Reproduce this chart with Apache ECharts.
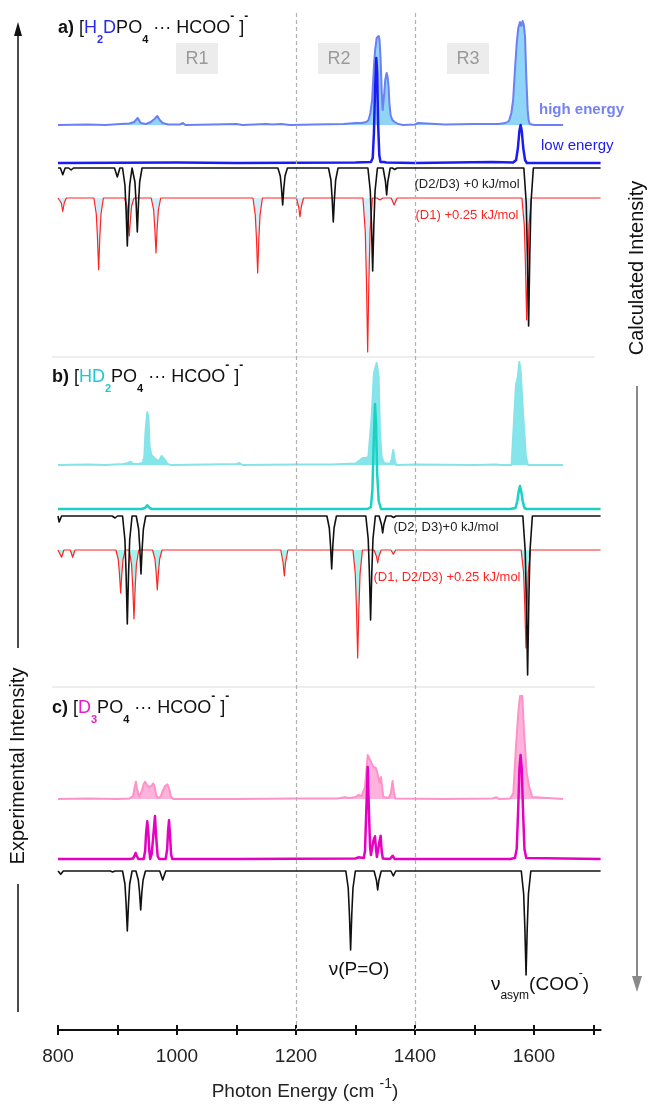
<!DOCTYPE html>
<html>
<head>
<meta charset="utf-8">
<script src="https://cdn.jsdelivr.net/npm/echarts@6/dist/echarts.min.js"></script>
<style>
  html, body { margin: 0; padding: 0; background: #fff; }
  #chart { width: 650px; height: 1104px; }
</style>
</head>
<body>
<div id="chart"></div>
<script>
// ---- wavenumber axis (cm-1) ----
const xTickValues = [800, 900, 1000, 1100, 1200, 1300, 1400, 1500, 1600, 1700];
const xLabelValues = [800, 1000, 1200, 1400, 1600];
const regionNames = ['R1', 'R2', 'R3'];

// ---- spectra: [wavenumber, intensity (arb. units)] ----
// a) [H2DPO4 ... HCOO-]-  experimental, high energy
const aExpHigh = [[800,0],[850,0.5],[880,0],[905,1],[920,1.5],[928,3],[934,7],[939,2],[948,1],[956,3],[962,6],[967,9],[971,5],[976,2],[985,0.5],[1005,0.5],[1010,2],[1014,0],[1060,0.5],[1100,1],[1110,0],[1150,1],[1160,0.5],[1175,1],[1190,0],[1230,0.5],[1280,1],[1300,2],[1310,2],[1318,3],[1322,5],[1325,12],[1328,25],[1331,58],[1333,75],[1335.6,87],[1339,89],[1340.5,85],[1342.3,65],[1344,35],[1345.7,15],[1348.4,32],[1350,45],[1352.4,52],[1354,48],[1355.7,38],[1357,22],[1359,10],[1362,5],[1366,3],[1372,1],[1380,0],[1400,0.5],[1405,2],[1408,0],[1450,0.5],[1500,1],[1540,1],[1552,2],[1558,4],[1562,12],[1565,25],[1568,55],[1571,82],[1573.6,97],[1576.5,103],[1578.7,99],[1581,104],[1583,100],[1585,88],[1587,50],[1589.4,15],[1591,5],[1593,1],[1600,0],[1649,0]];
// a) experimental, low energy
const aExpLow = [[800,0],[1000,0.5],[1100,0],[1300,0.5],[1326,1],[1329,5],[1331,30],[1333,75],[1335,105],[1336.5,90],[1338,40],[1340,8],[1342,1],[1348,1],[1350,2.5],[1352,0.5],[1400,0],[1530,1],[1533,0],[1565,0.5],[1570,3],[1573,15],[1575.5,32],[1577.5,38],[1579.5,32],[1582,15],[1585,3],[1588,0],[1712,0]];
// a) calculated (D2/D3) +0 kJ/mol
const aCalcD2D3 = [[800,0],[804,0],[808,6.7],[812,0],[818,0],[822,2],[826,0],[895,0],[899.7,9],[904,0],[908.5,0],[912.5,17],[914.5,43],[916.5,78],[918.5,43],[920.5,17],[924.5,0],[925.3,0],[929.3,14],[931.3,35],[933.3,64],[935.3,35],[937.3,14],[941.3,0],[1169.6,0],[1173.6,8],[1175.6,20],[1177.6,37],[1179.6,20],[1181.6,8],[1185.6,0],[1254.7,0],[1258.7,12],[1260.7,30],[1262.7,54],[1264.7,30],[1266.7,12],[1270.7,0],[1320.9,0],[1324.9,23],[1326.9,57],[1328.9,103],[1330.9,57],[1332.9,23],[1336.9,0],[1346.4,0],[1350.4,13.5],[1352.4,27],[1354.4,13.5],[1358.4,0],[1362,0],[1366,1.5],[1370,0],[1583,0],[1587,35],[1589,87],[1591,158],[1593,87],[1595,35],[1599,0],[1712,0]];
// a) calculated (D1) +0.25 kJ/mol
const aCalcD1 = [[800,0],[803,0],[805.5,5],[808,13.3],[810.5,5],[814,0],[860.3,0],[864.3,16],[866.3,39],[868.3,71.7],[870.3,39],[872.3,16],[876.3,0],[911.8,0],[915.8,8],[917.8,21],[919.8,38],[921.8,21],[923.8,8],[927.8,0],[956.7,0],[960.7,12],[962.7,30],[964.7,55],[966.7,30],[968.7,12],[972.7,0],[1127.6,0],[1131.6,17],[1133.6,41],[1135.6,75],[1137.6,41],[1139.6,17],[1143.6,0],[1200.7,0],[1204.7,9.5],[1206.7,19],[1208.7,9.5],[1212.7,0],[1312.5,0],[1316.5,34],[1318.5,85],[1320.5,154],[1322.5,85],[1324.5,34],[1328.5,0],[1336,0],[1341,2],[1346,0],[1360,0],[1365,7],[1370,0],[1579.7,0],[1583.7,27],[1585.7,67],[1587.7,122],[1589.7,67],[1591.7,27],[1595.7,0],[1712,0]];

// b) [HD2PO4 ... HCOO-]-  experimental, high energy
const bExpHigh = [[800,0],[850,0.5],[880,0],[910,1],[918,2],[922,3.3],[926,1],[935,1],[942,2],[945,8],[947,33],[950,52.7],[952,48],[954,18],[957,10],[962,7],[966,5],[970,4],[974,9],[977,11],[980,5],[984,1],[990,0],[1050,0.5],[1100,1],[1105,2],[1110,0],[1200,0.5],[1260,0.5],[1300,1.5],[1308,5],[1312,7],[1318,7],[1321.6,8],[1327.2,48],[1331,92],[1335.6,102],[1339,88],[1341.2,32],[1344,8],[1348,2],[1358,1],[1361,6],[1363.5,15],[1366,5],[1368,0],[1400,0.5],[1500,0],[1537,0.5],[1539.6,2],[1542,0],[1562.4,0],[1565.3,32],[1569.7,80],[1573,88],[1575.3,103],[1577.5,95],[1582,48],[1586.5,8],[1590,0],[1649,0]];
// b) experimental, low energy
const bExpLow = [[800,0],[940,0],[946,1],[950,3.7],[954,1],[958,0],[1100,0],[1320,0],[1326,2],[1328.5,20],[1330.5,65],[1332.8,105],[1334.5,85],[1336.5,35],[1339,8],[1343,0],[1560,0],[1569,1],[1572,8],[1574.5,18],[1576.5,23],[1578.5,18],[1581,8],[1584,1],[1588,0],[1712,0]];
// b) calculated (D2, D3) +0 kJ/mol
const bCalcD2D3 = [[800,0],[802,6],[806,0],[891,0],[895.8,2],[900,0],[908.5,0],[912.5,24],[914.5,59],[916.5,108],[918.5,59],[920.5,24],[924.5,0],[931.5,0],[935.5,13],[937.5,32],[939.5,58],[941.5,32],[943.5,13],[947.5,0],[1252,0],[1256,12],[1258,29],[1260,53],[1262,29],[1264,12],[1268,0],[1317.4,0],[1321.4,23],[1323.4,57],[1325.4,104],[1327.4,57],[1329.4,23],[1333.4,0],[1339.7,0],[1343.7,8.5],[1345.7,17],[1347.7,8.5],[1351.7,0],[1360,0],[1364,1.5],[1368,0],[1581.3,0],[1585.3,35],[1587.3,87],[1589.3,159],[1591.3,87],[1593.3,35],[1597.3,0],[1712,0]];
// b) calculated (D1, D2/D3) +0.25 kJ/mol
const bCalcD1 = [[800,0],[802,0],[806,7.3],[810,0],[820.6,0],[824.6,7.3],[828.6,0],[897.3,0],[901.3,9.5],[903.3,24],[905.3,43],[907.3,24],[909.3,9.5],[913.3,0],[919.7,0],[923.7,15],[925.7,38],[927.7,69],[929.7,38],[931.7,15],[935.7,0],[958.9,0],[962.9,9],[964.9,22],[966.9,40],[968.9,22],[970.9,9],[974.9,0],[1174.4,0],[1178.4,13],[1180.4,26],[1182.4,13],[1186.4,0],[1295.7,0],[1299.7,24],[1301.7,59],[1303.7,108],[1305.7,59],[1307.7,24],[1311.7,0],[1331.3,0],[1335.3,6.5],[1337.3,13],[1339.3,6.5],[1343.3,0],[1359.6,0],[1363.6,4.3],[1367.6,0],[1578.5,0],[1582.5,22],[1584.5,54],[1586.5,98],[1588.5,54],[1590.5,22],[1594.5,0],[1712,0]];

// c) [D3PO4 ... HCOO-]-  experimental, high energy
const cExpHigh = [[800,0],[850,0.5],[900,0],[920,0.5],[926,3],[929,12],[931,17.3],[933,10],[936,2],[938,1],[941,8],[944,15],[946.2,17.3],[949,16],[952,12],[954,10],[957,13],[960,15.7],[962,13],[965,4],[968,1],[972,2],[976,8],[980,13],[984,14.7],[987,10],[990,2],[994,0],[1100,0],[1200,0.5],[1270,0.5],[1282,1.7],[1290,1],[1300,2],[1304.8,4],[1310,3],[1316,12],[1320.5,44],[1324.4,39],[1330,32],[1334.5,31],[1338.4,22],[1340.5,16],[1342.9,22],[1346.8,2],[1356,1],[1359.5,6],[1362.4,18],[1365,5],[1367,0.5],[1450,0],[1530,0.5],[1537,1.7],[1541,0],[1560,0.5],[1565.3,5.7],[1569.7,52],[1573.6,86],[1576.5,103],[1580.4,103],[1583.2,69],[1587.7,26],[1592.1,12],[1597,2],[1600,0],[1649,0]];
// c) experimental, low energy
const cExpLow = [[800,0],[920,0],[926,0.5],[928.5,3],[930.5,6],[932.5,3],[935,0],[944,0],[946.5,8],[948,25],[950,37.7],[952,25],[953.5,8],[955,0],[957.5,5],[960,22],[963,43],[965,22],[967.5,3],[970,0],[981,0],[983.5,10],[985,28],[986.6,38.7],[988.5,22],[990,5],[992,0],[1100,0],[1300,0.5],[1304.8,1.7],[1308,0.5],[1314,1],[1316,8],[1318,45],[1320.5,92],[1322.5,50],[1324.5,12],[1326,4],[1328,6],[1330,18],[1332.8,22.7],[1334.5,10],[1336,2],[1338.5,3],[1340.5,18],[1342.3,23.3],[1344,8],[1346,0.5],[1358,0],[1362.4,3.3],[1366,0],[1560,0],[1568,1],[1571,10],[1573.5,50],[1575.5,90],[1577.5,104],[1579.5,90],[1581.5,50],[1584,10],[1587,1],[1590,0],[1712,0]];
// c) calculated
const cCalc = [[800,0],[804.6,3.3],[809,0],[888,0],[891.8,1],[896,0],[908.5,0],[912.5,13],[914.5,33],[916.5,60],[918.5,33],[920.5,13],[924.5,0],[931,0],[935,9],[937,21],[939,39],[941,21],[943,9],[947,0],[971,0],[976,9],[981,0],[1283.8,0],[1287.8,17],[1289.8,43],[1291.8,79],[1293.8,43],[1295.8,17],[1299.8,0],[1331.3,0],[1335.3,9.5],[1337.3,19],[1339.3,9.5],[1343.3,0],[1359.6,0],[1363.6,5],[1367.6,0],[1578.7,0],[1582.7,23],[1584.7,57],[1586.7,104],[1588.7,57],[1590.7,23],[1594.7,0],[1712,0]];

// ---- layout: vertical offset of every trace (axis units = px from top) ----
const FONT = 'Liberation Sans, Arial, Helvetica, sans-serif';
const AXIS_Y = 1030;
const base = {
  aHigh: 125, aLow: 163, aCalc1: 168, aCalc2: 198,
  bHigh: 465, bLow: 509, bCalc1: 516, bCalc2: 550,
  cHigh: 799, cLow: 859, cCalc1: 871
};

// experimental traces point up (dir = 1), calculated traces point down (dir = -1)
function trace(data, y0, dir, color, width, fill, z) {
  const s = {
    type: 'line',
    data: data.map(p => [p[0], y0 - dir * p[1]]),
    symbol: 'none',
    smooth: false,
    silent: true,
    animation: false,
    lineStyle: { color: color, width: width, join: 'round' },
    z: z
  };
  if (fill) s.areaStyle = { color: fill, opacity: 1, origin: y0 };
  return s;
}

const series = [
  trace(aExpHigh, base.aHigh, 1, '#6e7ef4', 2, '#8fd5f7', 3),
  trace(aExpLow, base.aLow, 1, '#1c1cf2', 2.5, null, 4),
  trace(aCalcD1, base.aCalc2, -1, '#ff2424', 1.2, '#d3eefa', 3),
  trace(aCalcD2D3, base.aCalc1, -1, '#111111', 1.6, null, 5),

  trace(bExpHigh, base.bHigh, 1, '#86e3ea', 2, '#84e6ea', 3),
  trace(bExpLow, base.bLow, 1, '#18d2c2', 2.5, null, 4),
  trace(bCalcD1, base.bCalc2, -1, '#ff2424', 1.2, '#a6f2ec', 3),
  trace(bCalcD2D3, base.bCalc1, -1, '#111111', 1.6, null, 5),

  trace(cExpHigh, base.cHigh, 1, '#ff92c8', 2, '#ffb2dc', 3),
  trace(cExpLow, base.cLow, 1, '#e600c2', 2.5, null, 4),
  trace(cCalc, base.cCalc1, -1, '#111111', 1.6, null, 5)
];

// region dividers at 1200 and 1400 cm-1
series[0].markLine = {
  silent: true, symbol: ['none', 'none'], label: { show: false },
  lineStyle: { color: '#b0b0b0', type: [4, 3], width: 1.2 },
  data: [
    [{ coord: [1200, 13] }, { coord: [1200, AXIS_Y] }],
    [{ coord: [1400, 13] }, { coord: [1400, AXIS_Y] }]
  ]
};

const subSup = (color) => ({
  n: { fontSize: 18, fontFamily: FONT, fill: '#111', lineHeight: 34 },
  b: { fontSize: 18, fontFamily: FONT, fill: '#111', fontWeight: 'bold', lineHeight: 34 },
  c: { fontSize: 18, fontFamily: FONT, fill: color, lineHeight: 34 },
  cs: { fontSize: 11, fontFamily: FONT, fill: color, fontWeight: 'bold', lineHeight: 11, verticalAlign: 'bottom' },
  ks: { fontSize: 11, fontFamily: FONT, fill: '#111', fontWeight: 'bold', lineHeight: 11, verticalAlign: 'bottom' },
  up: { fontSize: 12, fontFamily: FONT, fill: '#111', fontWeight: 'bold', lineHeight: 21, verticalAlign: 'top' }
});

function title(x, y, text, color) {
  return { type: 'text', x: x, y: y, silent: true, z: 20,
    style: { text: text, rich: subSup(color), x: 0, y: 0, verticalAlign: 'middle', align: 'left' } };
}
function label(x, y, text, color, size, weight, align) {
  return { type: 'text', x: x, y: y, silent: true, z: 20,
    style: { text: text, x: 0, y: 0, fill: color, font: (weight || 'normal') + ' ' + size + 'px ' + FONT,
      align: align || 'center', verticalAlign: 'middle' } };
}
function regionBox(cx, text) {
  return { type: 'group', silent: true, z: 1, children: [
    { type: 'rect', shape: { x: cx - 21, y: 43, width: 42, height: 31 }, style: { fill: '#ececec' } },
    label(cx, 59, text, '#9a9a9a', 18)
  ] };
}
function hline(x1, x2, y, color, w) {
  return { type: 'line', silent: true, z: 0, shape: { x1: x1, y1: y, x2: x2, y2: y }, style: { stroke: color, lineWidth: w } };
}
function vline(x, y1, y2, color, w) {
  return { type: 'line', silent: true, z: 20, shape: { x1: x, y1: y1, x2: x, y2: y2 }, style: { stroke: color, lineWidth: w } };
}

const graphic = [
  regionBox(197, regionNames[0]), regionBox(339, regionNames[1]), regionBox(468, regionNames[2]),
  hline(52, 595, 357, '#eeeeee', 2), hline(52, 595, 687, '#eeeeee', 2),

  title(58, 28, '{b|a)}{n| [}{c|H}{cs|2}{c|D}{n|PO}{ks|4}{n| ··· HCOO}{up|-}{n| ]}{up|-}', '#2a2ae8'),
  title(52, 377, '{b|b)}{n| [}{c|HD}{cs|2}{n|PO}{ks|4}{n| ··· HCOO}{up|-}{n| ]}{up|-}', '#1cc8d2'),
  title(52, 708, '{b|c)}{n| [}{c|D}{cs|3}{n|PO}{ks|4}{n| ··· HCOO}{up|-}{n| ]}{up|-}', '#e61cc8'),

  label(539, 110, 'high energy', '#7482f2', 15, 'bold', 'left'),
  label(541, 146, 'low energy', '#1c1cf2', 15, 'normal', 'left'),
  label(467, 184, '(D2/D3) +0 kJ/mol', '#222222', 13),
  label(467, 215, '(D1) +0.25 kJ/mol', '#ff2424', 13),
  label(446, 527, '(D2, D3)+0 kJ/mol', '#222222', 13),
  label(447, 577, '(D1, D2/D3) +0.25 kJ/mol', '#ff2424', 13),

  label(359, 970, 'ν(P=O)', '#111111', 19),
  { type: 'text', x: 540, y: 985, silent: true, z: 20,
    style: { text: '{v|ν}{s|asym}{v|(COO}{u|-}{v|)}', x: 0, y: 0, align: 'center', verticalAlign: 'middle',
      rich: {
        v: { fontSize: 19, fontFamily: FONT, fill: '#111', lineHeight: 34 },
        s: { fontSize: 12, fontFamily: FONT, fill: '#111', lineHeight: 12, verticalAlign: 'bottom' },
        u: { fontSize: 12, fontFamily: FONT, fill: '#111', lineHeight: 20, verticalAlign: 'top' }
      } } },

  // axis name
  { type: 'text', x: 305, y: 1092, silent: true, z: 20,
    style: { text: '{n|Photon Energy (cm }{u|-1}{n|)}', x: 0, y: 0, align: 'center', verticalAlign: 'middle',
      rich: {
        n: { fontSize: 19, fontFamily: FONT, fill: '#222', lineHeight: 30 },
        u: { fontSize: 14, fontFamily: FONT, fill: '#222', lineHeight: 18, verticalAlign: 'top' }
      } } },

  // experimental intensity arrow (left, upwards)
  vline(18, 1012, 884, '#111111', 1.5),
  vline(18, 648, 34, '#111111', 1.5),
  { type: 'polygon', silent: true, z: 20, shape: { points: [[18, 22], [14, 36], [22, 36]] }, style: { fill: '#111111' } },
  { type: 'text', x: 18, y: 766, rotation: Math.PI / 2, silent: true, z: 20,
    style: { text: 'Experimental Intensity', x: 0, y: 0, align: 'center', verticalAlign: 'middle', fill: '#111', font: '20px ' + FONT } },

  // calculated intensity arrow (right, downwards)
  { type: 'text', x: 637, y: 268, rotation: Math.PI / 2, silent: true, z: 20,
    style: { text: 'Calculated Intensity', x: 0, y: 0, align: 'center', verticalAlign: 'middle', fill: '#111', font: '20px ' + FONT } },
  vline(637, 386, 978, '#8a8a8a', 2),
  { type: 'polygon', silent: true, z: 20, shape: { points: [[637, 992], [632, 976], [642, 976]] }, style: { fill: '#8a8a8a' } }
];

const chart = echarts.init(document.getElementById('chart'), null, { renderer: 'canvas' });
chart.setOption({
  animation: false,
  backgroundColor: '#ffffff',
  grid: { left: 58, right: 49.4, top: 0, bottom: 1104 - AXIS_Y, containLabel: false },
  xAxis: [
    {
      type: 'value', min: 800, max: 1712, interval: 100, position: 'bottom',
      splitLine: { show: false },
      axisLine: { show: true, onZero: false, lineStyle: { color: '#111', width: 2 } },
      axisTick: { show: true, length: 5, customValues: xTickValues, lineStyle: { color: '#111', width: 2 } },
      axisLabel: { show: true, customValues: xLabelValues, margin: 17, color: '#222', fontSize: 19, fontFamily: FONT,
        formatter: v => (xLabelValues.indexOf(v) >= 0 ? String(v) : '') }
    },
    {
      type: 'value', min: 800, max: 1712, interval: 100, position: 'bottom',
      splitLine: { show: false },
      axisLine: { show: false, onZero: false },
      axisTick: { show: true, inside: true, length: 5, customValues: xTickValues, lineStyle: { color: '#111', width: 2 } },
      axisLabel: { show: false }
    }
  ],
  yAxis: { type: 'value', inverse: true, min: 0, max: AXIS_Y, show: false },
  series: series,
  graphic: graphic
});
</script>
</body>
</html>
